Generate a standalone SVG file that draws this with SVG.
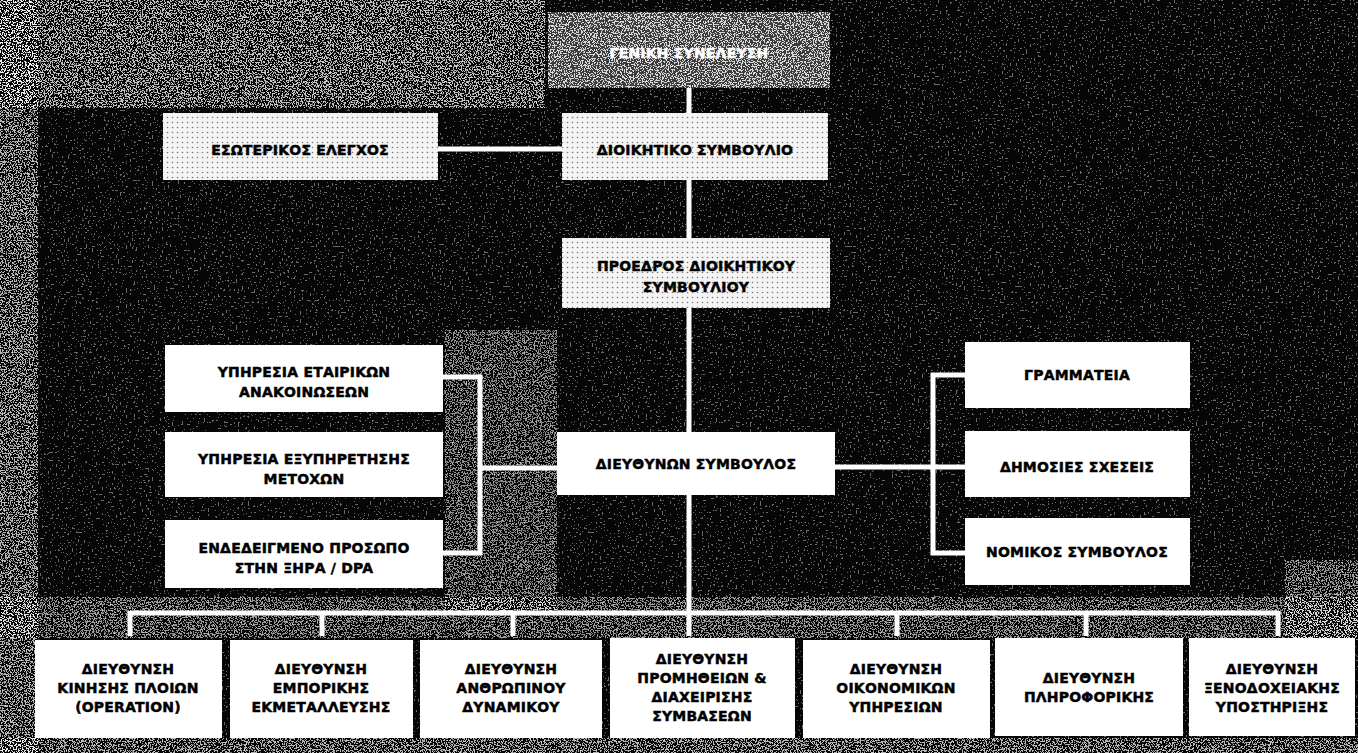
<svg xmlns="http://www.w3.org/2000/svg" width="1358" height="753" viewBox="0 0 1358 753">
<style>
.box{fill:#ffffff}
.ht{fill:url(#dots)}
.t{font-family:"DejaVu Sans","Liberation Sans",sans-serif;font-weight:bold;font-size:14px;fill:#000;stroke:#000;stroke-width:0.45px;text-anchor:middle;letter-spacing:0.2px}
.tw{fill:#fff;stroke:#fff}
.c{stroke:#fff;stroke-width:5;fill:none}
</style>
<defs>
<filter id="spkD" x="0" y="0" width="1" height="1">
<feTurbulence type="fractalNoise" baseFrequency="0.75" numOctaves="2" seed="7"/>
<feColorMatrix type="matrix" values="0 0 0 0 1 0 0 0 0 1 0 0 0 0 1 2 0 0 0 -0.56"/>
<feComponentTransfer><feFuncA type="discrete" tableValues="0 1"/></feComponentTransfer>
</filter>
<filter id="spkS" x="0" y="0" width="1" height="1">
<feTurbulence type="fractalNoise" baseFrequency="0.5" numOctaves="2" seed="3"/>
<feColorMatrix type="matrix" values="0 0 0 0 1 0 0 0 0 1 0 0 0 0 1 2 0 0 0 -0.86"/>
<feComponentTransfer><feFuncA type="discrete" tableValues="0 1"/></feComponentTransfer>
</filter>
<pattern id="dots" width="5" height="5" patternUnits="userSpaceOnUse">
<rect width="5" height="5" fill="#f4f4f4"/>
<circle cx="2.5" cy="2.5" r="0.8" fill="#777"/>
</pattern>
</defs>

<g id="background">
<rect width="1358" height="753" fill="#060606"/>
<rect width="1358" height="753" fill="#fff" filter="url(#spkS)" opacity="0.4"/>
<rect x="0" y="0" width="545" height="108" fill="#fff" filter="url(#spkD)" opacity="0.75"/>
<rect x="0" y="0" width="38" height="753" fill="#fff" filter="url(#spkD)" opacity="0.7"/>
<rect x="445" y="330" width="112" height="285" fill="#fff" filter="url(#spkD)" opacity="0.55"/>
<rect x="0" y="597" width="1358" height="41" fill="#fff" filter="url(#spkD)" opacity="0.6"/>
<rect x="0" y="738" width="1358" height="15" fill="#fff" filter="url(#spkD)" opacity="0.7"/>
<rect x="1285" y="560" width="73" height="80" fill="#fff" filter="url(#spkD)" opacity="0.6"/>
</g>

<g id="connectors">
<path class="c" d="M689 88V113"/>
<path class="c" d="M438 149H562"/>
<path class="c" d="M689 180V238"/>
<path class="c" d="M689 308V432"/>
<path class="c" d="M689 495V636"/>
<path class="c" d="M443 377H480V553H443M480 468H557"/>
<path class="c" d="M965 375H933V553H965M835 467H965"/>
<path class="c" d="M130 613H1278M130 611V636M322 611V636M513 611V636M897 611V636M1086 611V636M1278 611V636"/>
</g>

<g id="n-geniki">
<rect x="548" y="12" width="282" height="76" fill="#3c3c3c"/>
<rect x="548" y="12" width="282" height="76" fill="#fff" filter="url(#spkD)" opacity="0.8"/>
<text class="t tw" x="689" y="58">ΓΕΝΙΚΗ ΣΥΝΕΛΕΥΣΗ</text>
</g>
<g id="n-esoterikos">
<rect class="ht" x="163" y="113" width="275" height="67"/>
<text class="t" x="300" y="155">ΕΣΩΤΕΡΙΚΟΣ ΕΛΕΓΧΟΣ</text>
</g>
<g id="n-dioikitiko">
<rect class="ht" x="562" y="113" width="266" height="67"/>
<text class="t" x="695" y="155">ΔΙΟΙΚΗΤΙΚΟ ΣΥΜΒΟΥΛΙΟ</text>
</g>
<g id="n-proedros">
<rect class="ht" x="562" y="238" width="268" height="70"/>
<text class="t" x="696" y="271">ΠΡΟΕΔΡΟΣ ΔΙΟΙΚΗΤΙΚΟΥ</text>
<text class="t" x="696" y="292">ΣΥΜΒΟΥΛΙΟΥ</text>
</g>
<g id="n-ceo">
<rect class="box" x="557" y="432" width="278" height="63"/>
<text class="t" x="696" y="469">ΔΙΕΥΘΥΝΩΝ ΣΥΜΒΟΥΛΟΣ</text>
</g>
<g id="n-anakoinoseis">
<rect class="box" x="165" y="345" width="278" height="67"/>
<text class="t" x="304" y="377">ΥΠΗΡΕΣΙΑ ΕΤΑΙΡΙΚΩΝ</text>
<text class="t" x="304" y="397">ΑΝΑΚΟΙΝΩΣΕΩΝ</text>
</g>
<g id="n-metoxon">
<rect class="box" x="165" y="432" width="278" height="65"/>
<text class="t" x="304" y="464">ΥΠΗΡΕΣΙΑ ΕΞΥΠΗΡΕΤΗΣΗΣ</text>
<text class="t" x="304" y="484">ΜΕΤΟΧΩΝ</text>
</g>
<g id="n-dpa">
<rect class="box" x="165" y="520" width="278" height="68"/>
<text class="t" x="304" y="553">ΕΝΔΕΔΕΙΓΜΕΝΟ ΠΡΟΣΩΠΟ</text>
<text class="t" x="304" y="573">ΣΤΗΝ ΞΗΡΑ / DPA</text>
</g>
<g id="n-grammateia">
<rect class="box" x="965" y="342" width="225" height="66"/>
<text class="t" x="1077" y="380">ΓΡΑΜΜΑΤΕΙΑ</text>
</g>
<g id="n-dimosies">
<rect class="box" x="965" y="431" width="225" height="66"/>
<text class="t" x="1077" y="472">ΔΗΜΟΣΙΕΣ ΣΧΕΣΕΙΣ</text>
</g>
<g id="n-nomikos">
<rect class="box" x="965" y="518" width="225" height="67"/>
<text class="t" x="1077" y="557">ΝΟΜΙΚΟΣ ΣΥΜΒΟΥΛΟΣ</text>
</g>

<g id="n-d1">
<rect class="box" x="35" y="640" width="187" height="98"/>
<text class="t" x="128" y="674">ΔΙΕΥΘΥΝΣΗ</text>
<text class="t" x="128" y="693">ΚΙΝΗΣΗΣ ΠΛΟΙΩΝ</text>
<text class="t" x="128" y="712">(OPERATION)</text>
</g>
<g id="n-d2">
<rect class="box" x="230" y="640" width="183" height="98"/>
<text class="t" x="321" y="674">ΔΙΕΥΘΥΝΣΗ</text>
<text class="t" x="321" y="693">ΕΜΠΟΡΙΚΗΣ</text>
<text class="t" x="321" y="712">ΕΚΜΕΤΑΛΛΕΥΣΗΣ</text>
</g>
<g id="n-d3">
<rect class="box" x="420" y="640" width="182" height="98"/>
<text class="t" x="511" y="674">ΔΙΕΥΘΥΝΣΗ</text>
<text class="t" x="511" y="693">ΑΝΘΡΩΠΙΝΟΥ</text>
<text class="t" x="511" y="712">ΔΥΝΑΜΙΚΟΥ</text>
</g>
<g id="n-d4">
<rect class="box" x="610" y="638" width="185" height="100"/>
<text class="t" x="702" y="664">ΔΙΕΥΘΥΝΣΗ</text>
<text class="t" x="702" y="683">ΠΡΟΜΗΘΕΙΩΝ &amp;</text>
<text class="t" x="702" y="702">ΔΙΑΧΕΙΡΙΣΗΣ</text>
<text class="t" x="702" y="721">ΣΥΜΒΑΣΕΩΝ</text>
</g>
<g id="n-d5">
<rect class="box" x="803" y="640" width="187" height="98"/>
<text class="t" x="896" y="674">ΔΙΕΥΘΥΝΣΗ</text>
<text class="t" x="896" y="693">ΟΙΚΟΝΟΜΙΚΩΝ</text>
<text class="t" x="896" y="712">ΥΠΗΡΕΣΙΩΝ</text>
</g>
<g id="n-d6">
<rect class="box" x="995" y="638" width="188" height="98"/>
<text class="t" x="1089" y="683">ΔΙΕΥΘΥΝΣΗ</text>
<text class="t" x="1089" y="702">ΠΛΗΡΟΦΟΡΙΚΗΣ</text>
</g>
<g id="n-d7">
<rect class="box" x="1189" y="638" width="166" height="98"/>
<text class="t" x="1272" y="674">ΔΙΕΥΘΥΝΣΗ</text>
<text class="t" x="1272" y="693">ΞΕΝΟΔΟΧΕΙΑΚΗΣ</text>
<text class="t" x="1272" y="712">ΥΠΟΣΤΗΡΙΞΗΣ</text>
</g>
</svg>
